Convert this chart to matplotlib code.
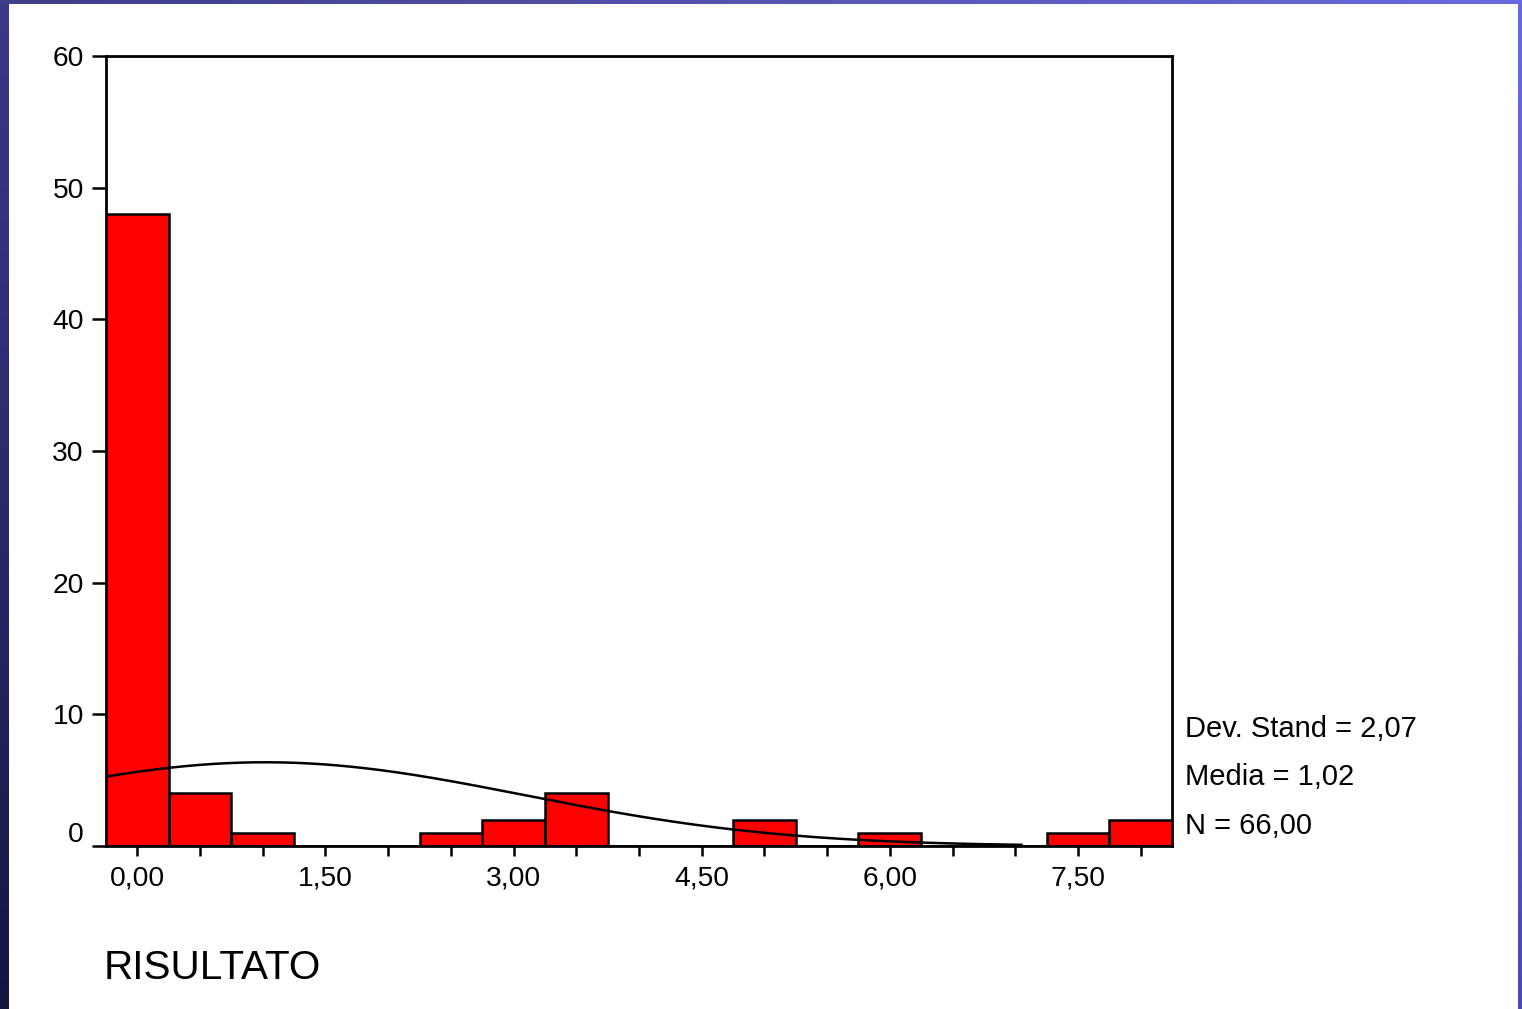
import numpy as np
import matplotlib
matplotlib.use("Agg")
import matplotlib.pyplot as plt
import matplotlib.transforms as mtrans
from matplotlib.colors import LinearSegmentedColormap

# ---- data ----
bin_centers = [0.0, 0.5, 1.0, 1.5, 2.0, 2.5, 3.0, 3.5, 4.0, 4.5, 5.0, 5.5, 6.0, 6.5, 7.0, 7.5, 8.0]
counts = [48, 4, 1, 0, 0, 1, 2, 4, 0, 0, 2, 0, 1, 0, 0, 1, 2]
bin_width = 0.5
std_dev = 2.07
mean = 1.02
n_obs = 66
x_tick_values = [0.0, 1.5, 3.0, 4.5, 6.0, 7.5]
x_tick_labels = ["0,00", "1,50", "3,00", "4,50", "6,00", "7,50"]
y_tick_values = [0, 10, 20, 30, 40, 50, 60]
y_tick_labels = ["0", "10", "20", "30", "40", "50", "60"]
stats_lines = ["Dev. Stand = 2,07", "Media = 1,02", "N = 66,00"]
x_label = "RISULTATO"

plt.rcParams['font.family'] = ['Liberation Sans', 'DejaVu Sans']

W, H = 1522, 1009
fig = plt.figure(figsize=(W / 100, H / 100), dpi=100)
fig.patch.set_facecolor("white")

# ---- slide border decoration ----
grad = np.linspace(0, 1, 256).reshape(-1, 1)
grad_ax = fig.add_axes([0, 0, 9 / W, 1])
cm_left = LinearSegmentedColormap.from_list("l", ["#3a3a86", "#2a2a6a", "#151542"])
grad_ax.imshow(grad, aspect="auto", cmap=cm_left, extent=[0, 1, 0, 1], origin="upper")
grad_ax.axis("off")

top_ax = fig.add_axes([0, 1 - 4 / H, 1, 4 / H])
gradh = np.linspace(0, 1, 256).reshape(1, -1)
cm_top = LinearSegmentedColormap.from_list("t", ["#3e3e8a", "#5555b0", "#6a6ae0"])
top_ax.imshow(gradh, aspect="auto", cmap=cm_top, extent=[0, 1, 0, 1])
top_ax.axis("off")

right_ax = fig.add_axes([1 - 4 / W, 0, 4 / W, 1])
right_ax.imshow(grad, aspect="auto",
                cmap=LinearSegmentedColormap.from_list("r", ["#6a6ae0", "#4a4ab0"]),
                extent=[0, 1, 0, 1], origin="upper")
right_ax.axis("off")

# ---- main axes ----
left, right, top, bottom = 106, 1172, 56, 846
ax = fig.add_axes([left / W, 1 - bottom / H, (right - left) / W, (bottom - top) / H])

ax.bar(bin_centers, counts, width=bin_width, color="#ff0000",
       edgecolor="black", linewidth=1.8, zorder=2)

xs = np.linspace(-0.25, 7.05, 400)
ys = n_obs * bin_width / (std_dev * np.sqrt(2 * np.pi)) * np.exp(-0.5 * ((xs - mean) / std_dev) ** 2)
ax.plot(xs, ys, color="black", linewidth=1.8, zorder=3)

ax.set_xlim(-0.25, 8.25)
ax.set_ylim(0, 60)

ax.set_xticks(bin_centers, minor=True)
ax.set_xticks(x_tick_values)
ax.set_xticklabels(x_tick_labels)
ax.set_yticks(y_tick_values)
ax.set_yticklabels(y_tick_labels)

for s in ax.spines.values():
    s.set_linewidth(2.0)

ax.tick_params(axis="x", which="both", direction="out", length=7, width=1.8,
               labelsize=20.3, pad=7)
ax.tick_params(axis="y", direction="out", length=10, width=1.8, labelsize=20.3, pad=6)

# SPSS offset of the "0" label
lab0 = ax.get_yticklabels()[0]
lab0.set_transform(lab0.get_transform() + mtrans.ScaledTranslation(0, 14 / 100, fig.dpi_scale_trans))

# ---- stats text ----
for txt, yc in zip(stats_lines, [729, 777, 826]):
    fig.text(1185 / W, 1 - yc / H, txt, fontsize=21, va="center", ha="left")

fig.text(104 / W, 1 - 968 / H, x_label, fontsize=29.2, va="center", ha="left")

fig.savefig("out.png", dpi=100)
